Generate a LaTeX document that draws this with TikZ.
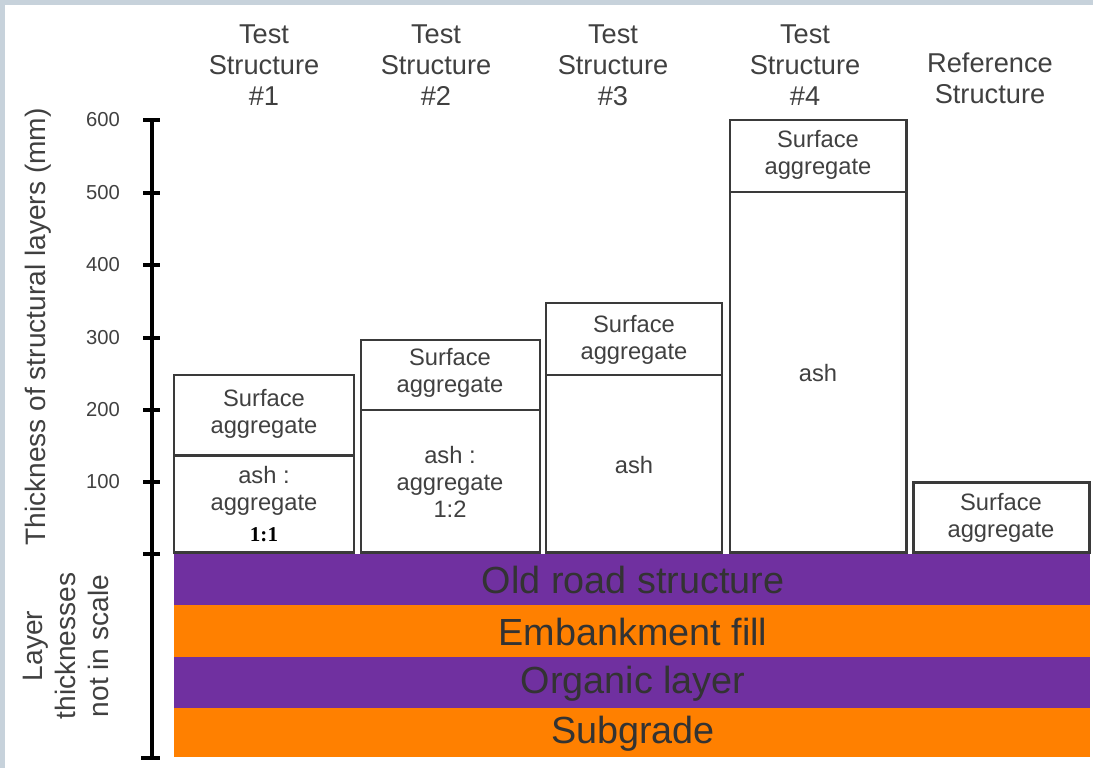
\documentclass[tikz,border=0pt]{standalone}
\usepackage{fontspec}
\setmainfont{Liberation Sans}
\newfontfamily\ratiofont{Liberation Serif}
\definecolor{frame}{HTML}{C7D2DB}
\definecolor{layerpurple}{HTML}{7030A0}
\definecolor{layerorange}{HTML}{FF8000}
\definecolor{labelgray}{HTML}{404040}
\definecolor{boxline}{HTML}{3A3A3A}

\begin{document}
\begin{tikzpicture}[x=0.02cm,y=-0.02cm,
    layerbox/.style={draw=boxline,line width=1.7pt},
    boxlabel/.style={text=labelgray,align=center,font=\fontsize{13.5}{15.4}\selectfont},
    headlabel/.style={text=labelgray,align=center,font=\fontsize{15.5}{17.7}\selectfont},
    bandlabel/.style={text=black!80,font=\fontsize{21.5}{25}\selectfont},
    ticklabel/.style={text=labelgray,anchor=east,font=\fontsize{11.5}{13}\selectfont},
    axistitle/.style={text=labelgray,rotate=90,align=center,font=\fontsize{16}{18.7}\selectfont}]
    \fill [frame] (0,0) rectangle (1093,768);
    \fill [white] (5,5) rectangle (1093,768);

    % layers below the test structures
    \fill [layerpurple] (174,554) rectangle (1090,605);
    \fill [layerorange] (174,605) rectangle (1090,657);
    \fill [layerpurple] (174,657) rectangle (1090,708);
    \fill [layerorange] (174,708) rectangle (1090,757);
    \node[bandlabel] (oldroad) at (633,580) {Old road structure};
    \node[bandlabel] (embankment) at (633,632) {Embankment fill};
    \node[bandlabel] (organic) at (633,684) {Organic layer};
    \node[bandlabel] (subgrade) at (633,734) {Subgrade};

    % axis
    \draw [line width=2.3pt] (152,120) -- (152,758);
    \foreach \v/\y in {100/482,200/410,300/338,400/265,500/193,600/120}{
      \draw [line width=2.3pt] (143,\y) -- (160,\y);
      \node[ticklabel] (tick\v) at (126,\y) {\v};
    }
    \draw [line width=2.3pt] (143,554) -- (160,554);
    \draw [line width=2.3pt] (141,758) -- (160,758);
    \node[axistitle] (ytitle) at (38,327) {Thickness of structural layers (mm)};
    \node[axistitle] (scalenote) at (66,646) {Layer\\thicknesses\\not in scale};

    % structures
    \draw [layerbox] (174,375) rectangle (354,552);
    \draw [layerbox] (174,455) -- (354,455);
    \node[boxlabel] (surf1) at (264,414) {Surface\\aggregate};
    \node[boxlabel] (ash1) at (264,491) {ash :\\aggregate};
    \node[text=black,font=\ratiofont\bfseries\fontsize{12}{14}\selectfont] (ratio1) at (264,535) {1:1};

    \draw [layerbox] (361,340) rectangle (540,552);
    \draw [layerbox] (361,410) -- (540,410);
    \node[boxlabel] (surf2) at (450,373) {Surface\\aggregate};
    \node[boxlabel] (ash2) at (450,482) {ash :\\aggregate\\1:2};

    \draw [layerbox] (546,303) rectangle (722,552);
    \draw [layerbox] (546,375) -- (722,375);
    \node[boxlabel] (surf3) at (634,340) {Surface\\aggregate};
    \node[boxlabel] (ash3) at (634,465) {ash};

    \draw [layerbox] (730,120) rectangle (906,552);
    \draw [layerbox] (730,192) -- (906,192);
    \node[boxlabel] (surf4) at (818,155) {Surface\\aggregate};
    \node[boxlabel] (ash4) at (818,373) {ash};

    \draw [layerbox] (913,482) rectangle (1089,552);
    \node[boxlabel] (surfref) at (1001,518) {Surface\\aggregate};

    % column headings
    \node[headlabel] (head1) at (264,65) {Test\\Structure\\\#1};
    \node[headlabel] (head2) at (436,65) {Test\\Structure\\\#2};
    \node[headlabel] (head3) at (613,65) {Test\\Structure\\\#3};
    \node[headlabel] (head4) at (805,65) {Test\\Structure\\\#4};
    \node[headlabel] (headref) at (990,78) {Reference\\Structure};
  \end{tikzpicture}
\end{document}
